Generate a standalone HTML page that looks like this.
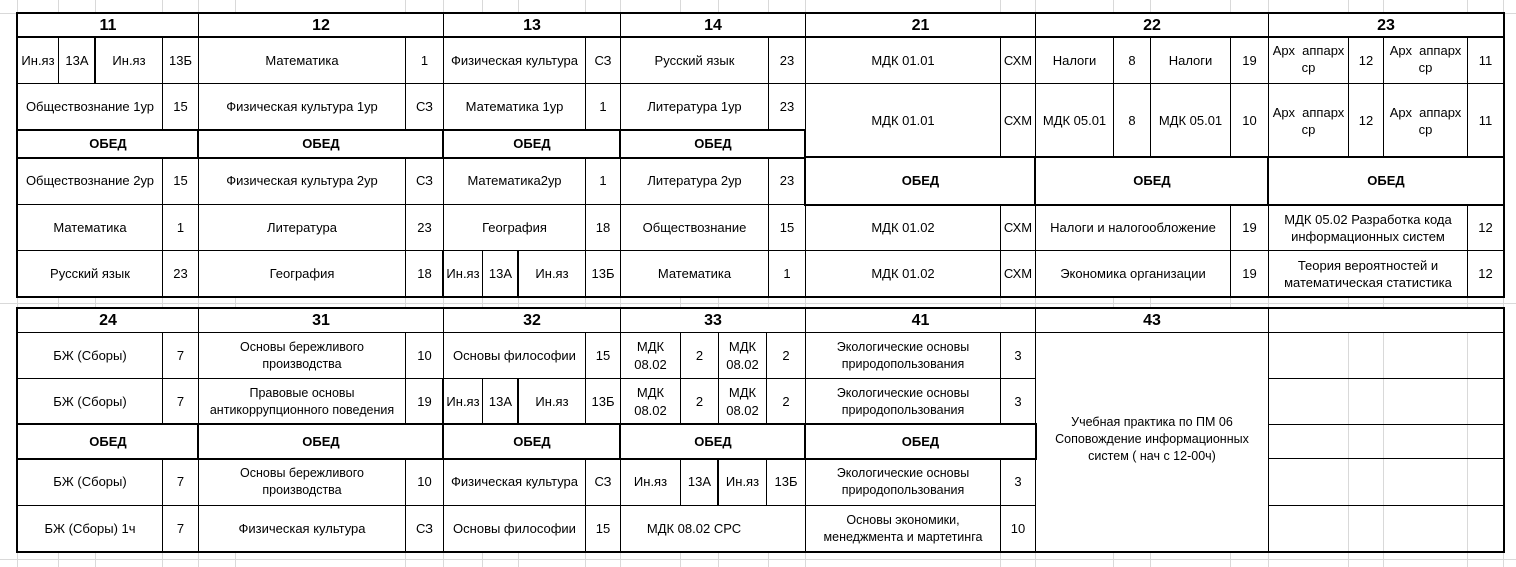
<!DOCTYPE html>
<html><head><meta charset="utf-8"><style>
body{margin:0;width:1516px;height:567px;background:#fff;position:relative;overflow:hidden;font-family:"Liberation Sans",Arial,sans-serif}
.g{position:absolute;background:#d9d9d9}
.c{position:absolute;box-sizing:border-box;border:1px solid #000;background:#fff;display:flex;align-items:center;justify-content:center;text-align:center;font-size:13px;line-height:18px;color:#000;padding:0 2px}
.h{font-weight:bold;font-size:16px}
.b{font-weight:bold}
.s{font-size:12.5px;line-height:17px}
.t{position:absolute;box-sizing:border-box;border:2px solid #000}
.k{position:absolute;background:#000}
.a{align-items:flex-start;padding-top:4px;line-height:17px}
</style></head><body>
<div class="g" style="left:0;top:13px;width:1516px;height:1px"></div>
<div class="g" style="left:0;top:559px;width:1516px;height:1px"></div>
<div class="g" style="left:0;top:303px;width:1516px;height:1px"></div>
<div class="g" style="left:17px;top:0;width:1px;height:567px"></div>
<div class="g" style="left:58px;top:0;width:1px;height:567px"></div>
<div class="g" style="left:95px;top:0;width:1px;height:567px"></div>
<div class="g" style="left:162px;top:0;width:1px;height:567px"></div>
<div class="g" style="left:198px;top:0;width:1px;height:567px"></div>
<div class="g" style="left:235px;top:0;width:1px;height:567px"></div>
<div class="g" style="left:405px;top:0;width:1px;height:567px"></div>
<div class="g" style="left:443px;top:0;width:1px;height:567px"></div>
<div class="g" style="left:482px;top:0;width:1px;height:567px"></div>
<div class="g" style="left:518px;top:0;width:1px;height:567px"></div>
<div class="g" style="left:585px;top:0;width:1px;height:567px"></div>
<div class="g" style="left:620px;top:0;width:1px;height:567px"></div>
<div class="g" style="left:680px;top:0;width:1px;height:567px"></div>
<div class="g" style="left:718px;top:0;width:1px;height:567px"></div>
<div class="g" style="left:768px;top:0;width:1px;height:567px"></div>
<div class="g" style="left:805px;top:0;width:1px;height:567px"></div>
<div class="g" style="left:1000px;top:0;width:1px;height:567px"></div>
<div class="g" style="left:1035px;top:0;width:1px;height:567px"></div>
<div class="g" style="left:1113px;top:0;width:1px;height:567px"></div>
<div class="g" style="left:1150px;top:0;width:1px;height:567px"></div>
<div class="g" style="left:1230px;top:0;width:1px;height:567px"></div>
<div class="g" style="left:1268px;top:0;width:1px;height:567px"></div>
<div class="g" style="left:1348px;top:0;width:1px;height:567px"></div>
<div class="g" style="left:1383px;top:0;width:1px;height:567px"></div>
<div class="g" style="left:1467px;top:0;width:1px;height:567px"></div>
<div class="g" style="left:1503px;top:0;width:1px;height:567px"></div>

<div class="c h" style="left:17px;top:13px;width:182px;height:25px">11</div>
<div class="c h" style="left:198px;top:13px;width:246px;height:25px">12</div>
<div class="c h" style="left:443px;top:13px;width:178px;height:25px">13</div>
<div class="c h" style="left:620px;top:13px;width:186px;height:25px">14</div>
<div class="c h" style="left:805px;top:13px;width:231px;height:25px">21</div>
<div class="c h" style="left:1035px;top:13px;width:234px;height:25px">22</div>
<div class="c h" style="left:1268px;top:13px;width:236px;height:25px">23</div>

<div class="c" style="left:17px;top:37px;width:42px;height:47px">Ин.яз</div>
<div class="c" style="left:58px;top:37px;width:38px;height:47px">13А</div>
<div class="c" style="left:95px;top:37px;width:68px;height:47px">Ин.яз</div>
<div class="c" style="left:162px;top:37px;width:37px;height:47px">13Б</div>
<div class="c" style="left:17px;top:83px;width:146px;height:48px">Обществознание 1ур</div>
<div class="c" style="left:162px;top:83px;width:37px;height:48px">15</div>
<div class="c b" style="left:17px;top:130px;width:182px;height:28px">ОБЕД</div>
<div class="c" style="left:17px;top:157px;width:146px;height:48px">Обществознание 2ур</div>
<div class="c" style="left:162px;top:157px;width:37px;height:48px">15</div>
<div class="c" style="left:17px;top:204px;width:146px;height:47px">Математика</div>
<div class="c" style="left:162px;top:204px;width:37px;height:47px">1</div>
<div class="c" style="left:17px;top:250px;width:146px;height:47px">Русский язык</div>
<div class="c" style="left:162px;top:250px;width:37px;height:47px">23</div>

<div class="c" style="left:198px;top:37px;width:208px;height:47px">Математика</div>
<div class="c" style="left:405px;top:37px;width:39px;height:47px">1</div>
<div class="c" style="left:198px;top:83px;width:208px;height:48px">Физическая культура 1ур</div>
<div class="c" style="left:405px;top:83px;width:39px;height:48px">СЗ</div>
<div class="c b" style="left:198px;top:130px;width:246px;height:28px">ОБЕД</div>
<div class="c" style="left:198px;top:157px;width:208px;height:48px">Физическая культура 2ур</div>
<div class="c" style="left:405px;top:157px;width:39px;height:48px">СЗ</div>
<div class="c" style="left:198px;top:204px;width:208px;height:47px">Литература</div>
<div class="c" style="left:405px;top:204px;width:39px;height:47px">23</div>
<div class="c" style="left:198px;top:250px;width:208px;height:47px">География</div>
<div class="c" style="left:405px;top:250px;width:39px;height:47px">18</div>

<div class="c" style="left:443px;top:37px;width:143px;height:47px">Физическая культура</div>
<div class="c" style="left:585px;top:37px;width:36px;height:47px">СЗ</div>
<div class="c" style="left:443px;top:83px;width:143px;height:48px">Математика 1ур</div>
<div class="c" style="left:585px;top:83px;width:36px;height:48px">1</div>
<div class="c b" style="left:443px;top:130px;width:178px;height:28px">ОБЕД</div>
<div class="c" style="left:443px;top:157px;width:143px;height:48px">Математика2ур</div>
<div class="c" style="left:585px;top:157px;width:36px;height:48px">1</div>
<div class="c" style="left:443px;top:204px;width:143px;height:47px">География</div>
<div class="c" style="left:585px;top:204px;width:36px;height:47px">18</div>
<div class="c" style="left:443px;top:250px;width:40px;height:47px">Ин.яз</div>
<div class="c" style="left:482px;top:250px;width:37px;height:47px">13А</div>
<div class="c" style="left:518px;top:250px;width:68px;height:47px">Ин.яз</div>
<div class="c" style="left:585px;top:250px;width:36px;height:47px">13Б</div>

<div class="c" style="left:620px;top:37px;width:149px;height:47px">Русский язык</div>
<div class="c" style="left:768px;top:37px;width:38px;height:47px">23</div>
<div class="c" style="left:620px;top:83px;width:149px;height:48px">Литература 1ур</div>
<div class="c" style="left:768px;top:83px;width:38px;height:48px">23</div>
<div class="c b" style="left:620px;top:130px;width:186px;height:28px">ОБЕД</div>
<div class="c" style="left:620px;top:157px;width:149px;height:48px">Литература 2ур</div>
<div class="c" style="left:768px;top:157px;width:38px;height:48px">23</div>
<div class="c" style="left:620px;top:204px;width:149px;height:47px">Обществознание</div>
<div class="c" style="left:768px;top:204px;width:38px;height:47px">15</div>
<div class="c" style="left:620px;top:250px;width:149px;height:47px">Математика</div>
<div class="c" style="left:768px;top:250px;width:38px;height:47px">1</div>

<div class="c" style="left:805px;top:37px;width:196px;height:47px">МДК 01.01</div>
<div class="c" style="left:1000px;top:37px;width:36px;height:47px">СХМ</div>
<div class="c" style="left:805px;top:83px;width:196px;height:75px">МДК 01.01</div>
<div class="c" style="left:1000px;top:83px;width:36px;height:75px">СХМ</div>
<div class="c b" style="left:805px;top:157px;width:231px;height:48px">ОБЕД</div>
<div class="c" style="left:805px;top:204px;width:196px;height:47px">МДК 01.02</div>
<div class="c" style="left:1000px;top:204px;width:36px;height:47px">СХМ</div>
<div class="c" style="left:805px;top:250px;width:196px;height:47px">МДК 01.02</div>
<div class="c" style="left:1000px;top:250px;width:36px;height:47px">СХМ</div>

<div class="c" style="left:1035px;top:37px;width:79px;height:47px">Налоги</div>
<div class="c" style="left:1113px;top:37px;width:38px;height:47px">8</div>
<div class="c" style="left:1150px;top:37px;width:81px;height:47px">Налоги</div>
<div class="c" style="left:1230px;top:37px;width:39px;height:47px">19</div>
<div class="c" style="left:1035px;top:83px;width:79px;height:75px">МДК 05.01</div>
<div class="c" style="left:1113px;top:83px;width:38px;height:75px">8</div>
<div class="c" style="left:1150px;top:83px;width:81px;height:75px">МДК 05.01</div>
<div class="c" style="left:1230px;top:83px;width:39px;height:75px">10</div>
<div class="c b" style="left:1035px;top:157px;width:234px;height:48px">ОБЕД</div>
<div class="c" style="left:1035px;top:204px;width:196px;height:47px">Налоги и налогообложение</div>
<div class="c" style="left:1230px;top:204px;width:39px;height:47px">19</div>
<div class="c" style="left:1035px;top:250px;width:196px;height:47px">Экономика организации</div>
<div class="c" style="left:1230px;top:250px;width:39px;height:47px">19</div>

<div class="c a" style="left:1268px;top:37px;width:81px;height:47px">Арх&nbsp;&nbsp;аппарх ср</div>
<div class="c" style="left:1348px;top:37px;width:36px;height:47px">12</div>
<div class="c a" style="left:1383px;top:37px;width:85px;height:47px">Арх&nbsp;&nbsp;аппарх ср</div>
<div class="c" style="left:1467px;top:37px;width:37px;height:47px">11</div>
<div class="c" style="left:1268px;top:83px;width:81px;height:75px;align-items:flex-start;padding-top:20px;line-height:17px">Арх&nbsp;&nbsp;аппарх ср</div>
<div class="c" style="left:1348px;top:83px;width:36px;height:75px">12</div>
<div class="c" style="left:1383px;top:83px;width:85px;height:75px;align-items:flex-start;padding-top:20px;line-height:17px">Арх&nbsp;&nbsp;аппарх ср</div>
<div class="c" style="left:1467px;top:83px;width:37px;height:75px">11</div>
<div class="c b" style="left:1268px;top:157px;width:236px;height:48px">ОБЕД</div>
<div class="c" style="left:1268px;top:204px;width:200px;height:47px;line-height:17px">МДК 05.02 Разработка кода<br>информационных систем</div>
<div class="c" style="left:1467px;top:204px;width:37px;height:47px">12</div>
<div class="c" style="left:1268px;top:250px;width:200px;height:47px;line-height:17px">Теория вероятностей и<br>математическая статистика</div>
<div class="c" style="left:1467px;top:250px;width:37px;height:47px">12</div>

<div class="t" style="left:16px;top:12px;width:1489px;height:286px"></div>
<div class="k" style="left:17px;top:36px;width:1487px;height:2px"></div>
<div class="t" style="left:16px;top:129px;width:790px;height:30px"></div>
<div class="k" style="left:197px;top:129px;width:2px;height:30px"></div>
<div class="k" style="left:442px;top:129px;width:2px;height:30px"></div>
<div class="k" style="left:619px;top:129px;width:2px;height:30px"></div>
<div class="t" style="left:804px;top:156px;width:701px;height:50px"></div>
<div class="k" style="left:1034px;top:156px;width:2px;height:50px"></div>
<div class="k" style="left:1267px;top:156px;width:2px;height:50px"></div>
<div class="k" style="left:94px;top:37px;width:2px;height:47px"></div>
<div class="k" style="left:442px;top:250px;width:2px;height:47px"></div>
<div class="k" style="left:517px;top:250px;width:2px;height:47px"></div>

<div class="c h" style="left:17px;top:308px;width:182px;height:25px">24</div>
<div class="c h" style="left:198px;top:308px;width:246px;height:25px">31</div>
<div class="c h" style="left:443px;top:308px;width:178px;height:25px">32</div>
<div class="c h" style="left:620px;top:308px;width:186px;height:25px">33</div>
<div class="c h" style="left:805px;top:308px;width:231px;height:25px">41</div>
<div class="c h" style="left:1035px;top:308px;width:234px;height:25px">43</div>
<div class="c h" style="left:1268px;top:308px;width:236px;height:25px"></div>

<div class="c" style="left:17px;top:332px;width:146px;height:47px">БЖ (Сборы)</div>
<div class="c" style="left:162px;top:332px;width:37px;height:47px">7</div>
<div class="c" style="left:17px;top:378px;width:146px;height:47px">БЖ (Сборы)</div>
<div class="c" style="left:162px;top:378px;width:37px;height:47px">7</div>
<div class="c b" style="left:17px;top:424px;width:182px;height:35px">ОБЕД</div>
<div class="c" style="left:17px;top:458px;width:146px;height:48px">БЖ (Сборы)</div>
<div class="c" style="left:162px;top:458px;width:37px;height:48px">7</div>
<div class="c" style="left:17px;top:505px;width:146px;height:47px">БЖ (Сборы) 1ч</div>
<div class="c" style="left:162px;top:505px;width:37px;height:47px">7</div>

<div class="c s" style="left:198px;top:332px;width:208px;height:47px">Основы бережливого<br>производства</div>
<div class="c" style="left:405px;top:332px;width:39px;height:47px">10</div>
<div class="c s" style="left:198px;top:378px;width:208px;height:47px">Правовые основы<br>антикоррупционного поведения</div>
<div class="c" style="left:405px;top:378px;width:39px;height:47px">19</div>
<div class="c b" style="left:198px;top:424px;width:246px;height:35px">ОБЕД</div>
<div class="c s" style="left:198px;top:458px;width:208px;height:48px">Основы бережливого<br>производства</div>
<div class="c" style="left:405px;top:458px;width:39px;height:48px">10</div>
<div class="c" style="left:198px;top:505px;width:208px;height:47px">Физическая культура</div>
<div class="c" style="left:405px;top:505px;width:39px;height:47px">СЗ</div>

<div class="c" style="left:443px;top:332px;width:143px;height:47px">Основы философии</div>
<div class="c" style="left:585px;top:332px;width:36px;height:47px">15</div>
<div class="c" style="left:443px;top:378px;width:40px;height:47px">Ин.яз</div>
<div class="c" style="left:482px;top:378px;width:37px;height:47px">13А</div>
<div class="c" style="left:518px;top:378px;width:68px;height:47px">Ин.яз</div>
<div class="c" style="left:585px;top:378px;width:36px;height:47px">13Б</div>
<div class="c b" style="left:443px;top:424px;width:178px;height:35px">ОБЕД</div>
<div class="c" style="left:443px;top:458px;width:143px;height:48px">Физическая культура</div>
<div class="c" style="left:585px;top:458px;width:36px;height:48px">СЗ</div>
<div class="c" style="left:443px;top:505px;width:143px;height:47px">Основы философии</div>
<div class="c" style="left:585px;top:505px;width:36px;height:47px">15</div>

<div class="c" style="left:620px;top:332px;width:61px;height:47px">МДК 08.02</div>
<div class="c" style="left:680px;top:332px;width:39px;height:47px">2</div>
<div class="c" style="left:718px;top:332px;width:49px;height:47px">МДК 08.02</div>
<div class="c" style="left:766px;top:332px;width:40px;height:47px">2</div>
<div class="c" style="left:620px;top:378px;width:61px;height:47px">МДК 08.02</div>
<div class="c" style="left:680px;top:378px;width:39px;height:47px">2</div>
<div class="c" style="left:718px;top:378px;width:49px;height:47px">МДК 08.02</div>
<div class="c" style="left:766px;top:378px;width:40px;height:47px">2</div>
<div class="c b" style="left:620px;top:424px;width:186px;height:35px">ОБЕД</div>
<div class="c" style="left:620px;top:458px;width:61px;height:48px">Ин.яз</div>
<div class="c" style="left:680px;top:458px;width:39px;height:48px">13А</div>
<div class="c" style="left:718px;top:458px;width:49px;height:48px">Ин.яз</div>
<div class="c" style="left:766px;top:458px;width:40px;height:48px">13Б</div>
<div class="c" style="left:620px;top:505px;width:186px;height:47px;padding-right:40px">МДК 08.02 СРС</div>

<div class="c s" style="left:805px;top:332px;width:196px;height:47px">Экологические основы<br>природопользования</div>
<div class="c" style="left:1000px;top:332px;width:36px;height:47px">3</div>
<div class="c s" style="left:805px;top:378px;width:196px;height:47px">Экологические основы<br>природопользования</div>
<div class="c" style="left:1000px;top:378px;width:36px;height:47px">3</div>
<div class="c b" style="left:805px;top:424px;width:231px;height:35px">ОБЕД</div>
<div class="c s" style="left:805px;top:458px;width:196px;height:48px">Экологические основы<br>природопользования</div>
<div class="c" style="left:1000px;top:458px;width:36px;height:48px">3</div>
<div class="c s" style="left:805px;top:505px;width:196px;height:47px">Основы экономики,<br>менеджмента и мартетинга</div>
<div class="c" style="left:1000px;top:505px;width:36px;height:47px">10</div>

<div class="c s" style="left:1035px;top:332px;width:234px;height:220px;padding:0 10px 5px">Учебная практика по ПМ 06<br>Соповождение информационных<br>систем ( нач с 12-00ч)</div>

<div class="k" style="left:1268px;top:378px;width:236px;height:1px"></div>
<div class="k" style="left:1268px;top:424px;width:236px;height:1px"></div>
<div class="k" style="left:1268px;top:458px;width:236px;height:1px"></div>
<div class="k" style="left:1268px;top:505px;width:236px;height:1px"></div>
<div class="k" style="left:1268px;top:332px;width:1px;height:220px"></div>

<div class="t" style="left:16px;top:307px;width:1489px;height:246px"></div>
<div class="t" style="left:16px;top:423px;width:1021px;height:37px"></div>
<div class="k" style="left:197px;top:423px;width:2px;height:37px"></div>
<div class="k" style="left:442px;top:423px;width:2px;height:37px"></div>
<div class="k" style="left:619px;top:423px;width:2px;height:37px"></div>
<div class="k" style="left:804px;top:423px;width:2px;height:37px"></div>
<div class="k" style="left:442px;top:378px;width:2px;height:47px"></div>
<div class="k" style="left:517px;top:378px;width:2px;height:47px"></div>
<div class="k" style="left:717px;top:458px;width:2px;height:48px"></div>
</body></html>
